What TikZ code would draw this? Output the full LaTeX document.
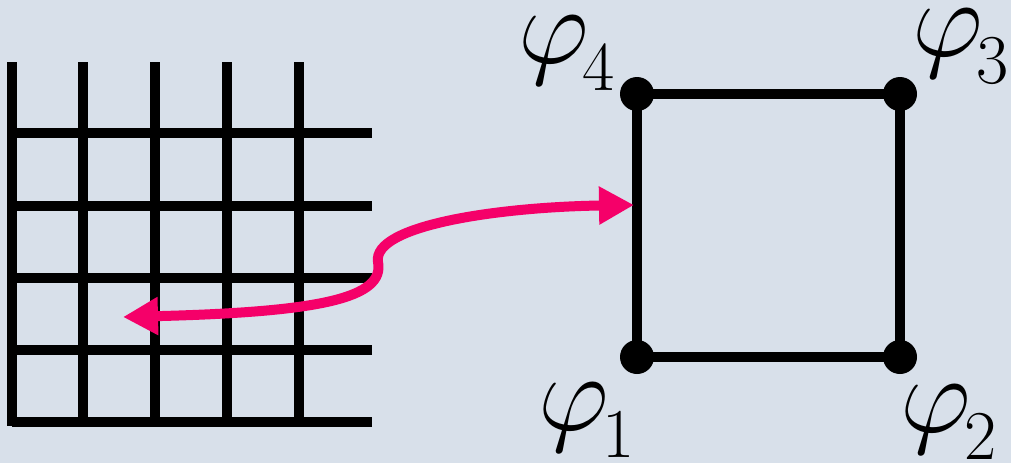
\RequirePackage{fix-cm}
\documentclass[tikz,border=0pt]{standalone}
\usetikzlibrary{arrows.meta,positioning,calc}
\definecolor{paperblue}{RGB}{216,224,234}
\definecolor{linkpink}{RGB}{245,0,105}
\newcommand{\phisub}[1]{$\varphi$\kern-6pt\raisebox{-27pt}{\fontsize{70}{70}\selectfont #1}}

\begin{document}
\begin{tikzpicture}[
        x=1pt, y=-1pt,
        gridline/.style={line width=9.5pt, black},
        edge/.style={line width=10pt, black},
        vdot/.style={black},
        lbl/.style={anchor=base west, inner sep=0pt, font=\fontsize{110}{110}\selectfont},
        link/.style={{Triangle[length=35pt,width=36pt]}-{Triangle[length=35pt,width=36pt]}, line width=10pt, linkpink}
    ]
        % Background
        \fill[paperblue] (0,0) rectangle (1011,463);
        \useasboundingbox (0,0) rectangle (1011,463);

        % Grid
        \foreach \gx in {12,83,155,227,299}
            \draw[gridline] (\gx,62) -- (\gx,422);
        \foreach \gy in {133,206,278,350,422}
            \draw[gridline] (12,\gy) -- (372,\gy);
        \draw[gridline] (12,418) -- (12,426);

        % Element
        \coordinate (c1) at (637,357);
        \coordinate (c2) at (900,357);
        \coordinate (c3) at (900,94);
        \coordinate (c4) at (637,94);
        \draw[edge] (c1) -- (c2) -- (c3) -- (c4) -- cycle;
        \foreach \c in {c1,c2,c3,c4}
            \fill[vdot] (\c) circle (17pt);

        % Labels
        \node[lbl] (lbl4) at (518,63) {\phisub{4}};
        \node[lbl] (lbl3) at (912,56) {\phisub{3}};
        \node[lbl] (lbl1) at (538,430) {\phisub{1}};
        \node[lbl] (lbl2) at (900,432) {\phisub{2}};

        % Mapping
        \coordinate (gridpt) at (123,317);
        \coordinate (edgept) at (634,205);
        \draw[link] (gridpt) .. controls (320,312) and (385,298) .. (378,262)
            .. controls (372,225) and (500,207) .. (edgept);

    \end{tikzpicture}
\end{document}
